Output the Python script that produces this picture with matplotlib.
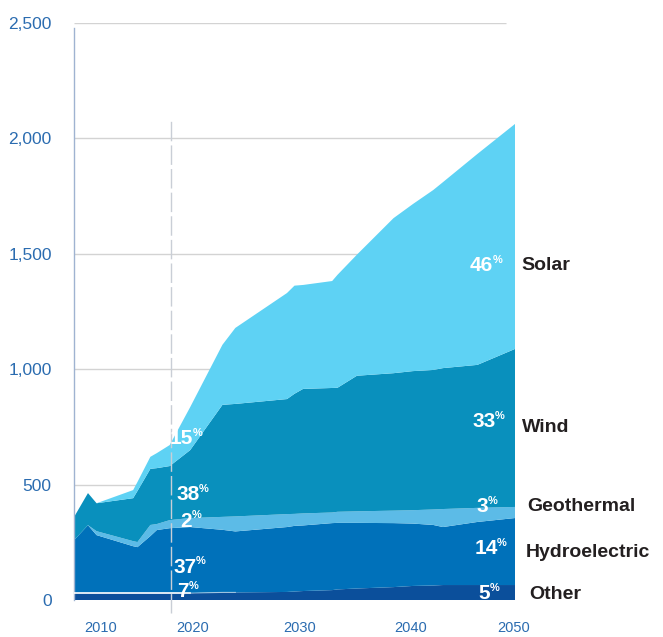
import matplotlib
matplotlib.use("Agg")
import matplotlib.pyplot as plt
import numpy as np

plt.rcParams['font.family'] = ['Liberation Sans', 'DejaVu Sans']

# values (GW, stacked from bottom)
years = [2009, 2010.3, 2011.1, 2014.5, 2014.9, 2016.1, 2016.7, 2017.9, 2019.8,
         2022.8, 2024.0, 2028.8, 2029.5, 2030.3, 2033.0, 2033.5, 2035.3,
         2038.7, 2040.5, 2042.4, 2043.3, 2046.5, 2050]
other = [32, 32, 32, 32, 32, 32, 32, 32, 32, 35, 35, 37, 39, 41, 45, 48, 52,
         58, 63, 65, 67, 67, 67]
hydro = [229, 294, 251, 203, 199, 247, 273, 281, 286, 271, 264, 281, 284, 284,
         290, 288, 284, 277, 270, 262, 251, 273, 290]
geothermal = [0, 0, 17, 22, 22, 48, 26, 35, 39, 56, 65, 56, 52, 52, 46, 48, 50,
              54, 58, 67, 78, 61, 48]
wind = [100, 139, 121, 186, 221, 243, 242, 234, 294, 485, 487, 498, 520, 539,
        539, 537, 587, 595, 602, 604, 610, 619, 684]
solar = [0, 0, 0, 35, 39, 52, 65, 91, 186, 260, 329, 459, 468, 450, 463, 489,
         524, 671, 723, 779, 805, 913, 974]

series_names = ['Other', 'Hydroelectric', 'Geothermal', 'Wind', 'Solar']
colors = ['#0b4f9b', '#0071ba', '#5cbbe7', '#0990bd', '#5ed2f4']

# share labels: left column (2018) and right column (2050)
pct_2018 = ['7', '37', '2', '38', '15']
pct_2050 = ['5', '14', '3', '33', '46']
pct_2018_pos = [(2019.7, 37), (2020.4, 145), (2020.0, 344), (2020.7, 457), (2020.1, 703)]
pct_2050_pos = [(2047.7, 32), (2048.4, 223), (2047.5, 407), (2048.2, 773), (2047.95, 1452)]
name_pos = [(2051.3, 24), (2051.0, 206), (2051.1, 409), (2050.65, 751), (2050.55, 1452)]

yticks = [0, 500, 1000, 1500, 2000, 2500]
xticks = [2011.5, 2020, 2030, 2040.3, 2049.9]
xlabels = ['2010', '2020', '2030', '2040', '2050']

tick_blue = '#2b6cb0'
dark = '#231f20'

fig = plt.figure(figsize=(6.63, 6.37), dpi=100)
ax = fig.add_axes([0.1116, 0.0573, 0.6652, 0.9066])

ax.hlines(yticks[1:], 2009, 2049.2, color='#d3d3d3', lw=1, zorder=0)

ax.stackplot(years, other, hydro, geothermal, wind, solar, colors=colors,
             linewidth=0, zorder=2)

# thin white edge on top of "Other" in the early years
ax.plot(years[:9], other[:9], color='white', lw=1.2, zorder=3)
ax.plot(years[8:11], other[8:11], color='white', lw=0.8, alpha=0.5, zorder=3)

# dashed marker for 2018
ax.plot([2018, 2018], [-55, 2090], color='#c9ced6', lw=1, dashes=(14, 3),
        zorder=4, clip_on=False)

ax.set_xlim(2009, 2050)
ax.set_ylim(0, 2500)

for s in ['top', 'right', 'bottom']:
    ax.spines[s].set_visible(False)
ax.spines['left'].set_color('#9fb3d1')
ax.spines['left'].set_linewidth(1)
ax.spines['left'].set_bounds(0, 2480)

ax.set_yticks(yticks)
ax.set_yticklabels([f'{v:,}' for v in yticks])
ax.set_xticks(xticks)
ax.set_xticklabels(xlabels)
ax.tick_params(axis='y', length=0, pad=16, labelsize=12.5, labelcolor=tick_blue)
ax.tick_params(axis='x', length=0, pad=15, labelsize=10.5, labelcolor=tick_blue)


def pct_label(x, y, txt):
    ax.text(x, y, txt, ha='right', va='center', color='white',
            fontsize=15, fontweight='bold', zorder=5)
    ax.annotate('%', xy=(x, y), xytext=(-0.5, 4), textcoords='offset points',
                ha='left', va='center', color='white', fontsize=8,
                fontweight='bold', zorder=5, annotation_clip=False)


for (x, y), t in zip(pct_2018_pos, pct_2018):
    pct_label(x, y, t)
for (x, y), t in zip(pct_2050_pos, pct_2050):
    pct_label(x, y, t)

for (x, y), name in zip(name_pos, series_names):
    ax.text(x, y, name, ha='left', va='center', color=dark, fontsize=14,
            fontweight='bold', clip_on=False)

fig.savefig('out.png', dpi=100)
